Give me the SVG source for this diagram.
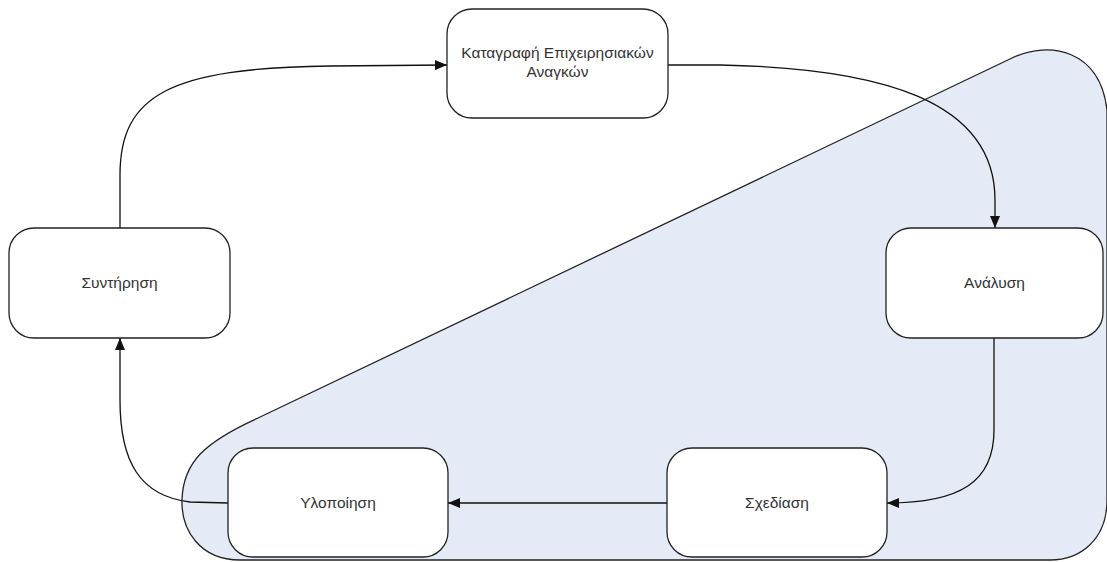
<svg xmlns="http://www.w3.org/2000/svg" width="1107" height="562" viewBox="0 0 1107 562">
  <style>
    .node rect { fill: #ffffff; stroke: #222222; stroke-width: 1.3; }
    .node text { font-family: "Liberation Sans", Arial, sans-serif; font-size: 15.5px; fill: #333333; text-anchor: middle; }
    .edge { fill: none; stroke: #111111; stroke-width: 1.3; marker-end: url(#arrow); }
    .region { fill: #e5ebf6; stroke: #222222; stroke-width: 1.3; }
  </style>
  <defs>
    <marker id="arrow" viewBox="0 0 12 10" refX="12" refY="5" markerWidth="12" markerHeight="10" markerUnits="userSpaceOnUse" orient="auto">
      <path d="M0,0 L12,5 L0,10 Z" fill="#111111"/>
    </marker>
  </defs>

  <rect width="1107" height="562" fill="#ffffff"/>

  <!-- shaded region behind the lower-right nodes -->
  <path class="region" d="M258,418 L1012,58 C1050,40 1100,50 1107,110 L1107,500 C1107,540 1080,560 1050,560 L240,560 C200,560 181,530 182,500 C183,462 205,442 258,418 Z"/>

  <g id="connectors">
    <path class="edge" d="M120,228 L120,175 C120,95 170,68 330,66 L447,65"/>
    <path class="edge" d="M668,65 L720,65 C880,68 995,100 995,200 L995,228"/>
    <path class="edge" d="M994,338 L994,430 C994,482 960,503 887,503"/>
    <path class="edge" d="M667,503 L448,503"/>
    <path class="edge" d="M228,503 L190,502 C140,496 120,462 120,400 L120,338"/>
  </g>

  <g id="node-katagrafi" class="node">
    <rect x="447" y="9" width="221" height="109" rx="25" ry="25"/>
    <text x="557.5" y="58">Καταγραφή Επιχειρησιακών</text>
    <text x="557.5" y="77">Αναγκών</text>
  </g>

  <g id="node-syntirisi" class="node">
    <rect x="9" y="228" width="221" height="110" rx="25" ry="25"/>
    <text x="119.5" y="288">Συντήρηση</text>
  </g>

  <g id="node-analysi" class="node">
    <rect x="886" y="228" width="217" height="110" rx="25" ry="25"/>
    <text x="994.5" y="288">Ανάλυση</text>
  </g>

  <g id="node-ylopoiisi" class="node">
    <rect x="228" y="448" width="220" height="109" rx="25" ry="25"/>
    <text x="338" y="508">Υλοποίηση</text>
  </g>

  <g id="node-schediasi" class="node">
    <rect x="667" y="448" width="220" height="109" rx="25" ry="25"/>
    <text x="777" y="508">Σχεδίαση</text>
  </g>
</svg>
